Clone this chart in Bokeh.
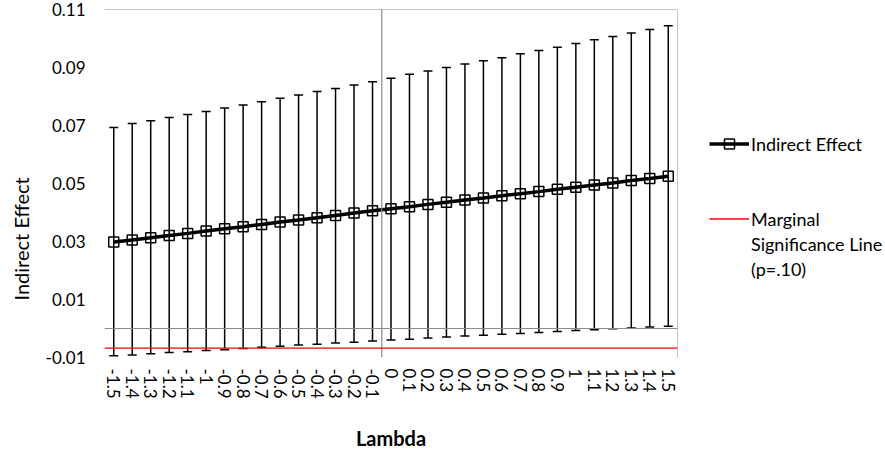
from bokeh.plotting import figure
from bokeh.layouts import row
from bokeh.models import (ColumnDataSource, Range1d, FixedTicker, PrintfTickFormatter,
                          Span, Whisker, TeeHead, Legend, LegendItem)
from bokeh.embed import file_html
from bokeh.resources import INLINE

# ---------------- data ----------------
lambda_labels = ["-1.5", "-1.4", "-1.3", "-1.2", "-1.1", "-1", "-0.9", "-0.8", "-0.7", "-0.6",
                 "-0.5", "-0.4", "-0.3", "-0.2", "-0.1", "0", "0.1", "0.2", "0.3", "0.4",
                 "0.5", "0.6", "0.7", "0.8", "0.9", "1", "1.1", "1.2", "1.3", "1.4", "1.5"]
indirect_effect = [0.0298, 0.0305, 0.0313, 0.0321, 0.0328, 0.0336, 0.0344, 0.0351, 0.0359, 0.0367,
                   0.0374, 0.0382, 0.0390, 0.0398, 0.0406, 0.0413, 0.0420, 0.0428, 0.0435, 0.0443,
                   0.0450, 0.0458, 0.0465, 0.0472, 0.0480, 0.0487, 0.0495, 0.0502, 0.0510, 0.0517,
                   0.0525]
upper_ci = [0.0693, 0.0707, 0.0716, 0.0728, 0.0738, 0.0748, 0.0760, 0.0771, 0.0782, 0.0794,
            0.0805, 0.0817, 0.0828, 0.0840, 0.0851, 0.0863, 0.0877, 0.0888, 0.0900, 0.0912,
            0.0923, 0.0934, 0.0947, 0.0959, 0.0970, 0.0983, 0.0996, 0.1007, 0.1019, 0.1031,
            0.1044]
lower_ci = [-0.0094, -0.0091, -0.0087, -0.0083, -0.0080, -0.0076, -0.0073, -0.0069, -0.0065, -0.0061,
            -0.0057, -0.0054, -0.0050, -0.0047, -0.0043, -0.0040, -0.0037, -0.0033, -0.0029, -0.0026,
            -0.0023, -0.0020, -0.0017, -0.0014, -0.0010, -0.0007, -0.0004, -0.0001, 0.0002, 0.0005,
            0.0008]
marginal_line = -0.0068
y_ticks = [-0.01, 0.01, 0.03, 0.05, 0.07, 0.09, 0.11]
y_min, y_max = -0.01, 0.11
axis_cross_between = ("-0.1", "0")   # value axis crosses between these categories

idx = list(range(len(lambda_labels)))
src = ColumnDataSource(dict(x=idx, y=indirect_effect, upper=upper_ci, lower=lower_ci,
                            marg=[marginal_line] * len(idx)))

FONT = "Lato"
GRAY = "#8a8a8a"

p = figure(width=678, height=455, output_backend="svg", toolbar_location=None,
           title="Indirect Effect", title_location="left",
           x_range=Range1d(-0.5, len(idx) - 0.5), y_range=Range1d(y_min, y_max),
           min_border_left=104, min_border_right=1, min_border_top=9, min_border_bottom=98)
p.outline_line_color = None
p.xgrid.visible = False
p.ygrid.visible = False
p.background_fill_color = "white"
p.border_fill_color = "white"

# y-axis title (Excel places it below the centre)
p.title.align = "left"
p.title.vertical_align = "top"
p.title.offset = 57
p.title.text_font = FONT
p.title.text_font_style = "normal"
p.title.text_font_size = "20px"
p.title.text_color = "#000000"
p.title.standoff = 15

# axes
xa = p.xaxis[0]
xa.ticker = FixedTicker(ticks=idx)
xa.major_label_overrides = {i: lab for i, lab in zip(idx, lambda_labels)}
xa.major_label_orientation = "vertical"
xa.axis_line_color = None
xa.major_tick_line_color = None
xa.minor_tick_line_color = None
xa.major_tick_in = 0
xa.major_tick_out = 0
xa.major_label_standoff = 11
xa.major_label_text_font = FONT
xa.major_label_text_font_size = "17px"
xa.major_label_text_color = "#000000"
xa.axis_label = "Lambda"
xa.axis_label_text_font = FONT
xa.axis_label_text_font_style = "bold"
xa.axis_label_text_font_size = "20px"
xa.axis_label_text_color = "#000000"
xa.axis_label_standoff = 24

ya = p.yaxis[0]
ya.ticker = FixedTicker(ticks=y_ticks)
ya.formatter = PrintfTickFormatter(format="%.2f")
ya.axis_line_color = None
ya.major_tick_line_color = None
ya.minor_tick_line_color = None
ya.major_tick_in = 0
ya.major_tick_out = 0
ya.minor_tick_in = 0
ya.minor_tick_out = 0
ya.major_label_standoff = 19
ya.major_label_text_font = FONT
ya.major_label_text_font_size = "17px"
ya.major_label_text_color = "#000000"

# plot-area border (top & right), axis lines crossing at 0 / between categories
cross_x = (lambda_labels.index(axis_cross_between[0]) + lambda_labels.index(axis_cross_between[1])) / 2
p.add_layout(Span(location=y_max, dimension="width", line_color=GRAY, line_width=1))
p.add_layout(Span(location=len(idx) - 0.5, dimension="height", line_color=GRAY, line_width=1))
p.add_layout(Span(location=0, dimension="width", line_color=GRAY, line_width=1.2))
p.add_layout(Span(location=cross_x, dimension="height", line_color=GRAY, line_width=1.2))

# marginal significance line
p.add_layout(Span(location=marginal_line, dimension="width", line_color="#ff0000", line_width=1.3))

# error bars
wh = Whisker(source=src, base="x", upper="upper", lower="lower", dimension="height",
             line_color="black", line_width=1.5,
             upper_head=TeeHead(size=9, line_color="black", line_width=1.5),
             lower_head=TeeHead(size=9, line_color="black", line_width=1.5))
p.add_layout(wh)

# main series
p.line("x", "y", source=src, line_color="black", line_width=3.5)
p.scatter("x", "y", source=src, marker="square", size=10, line_color="black",
          fill_color=None, line_width=1.5)

# ---------------- legend panel ----------------
p2 = figure(width=207, height=455, output_backend="svg", toolbar_location=None,
            x_range=Range1d(0, 1), y_range=Range1d(0, 1), min_border=0,
            x_axis_location=None, y_axis_location=None)
p2.outline_line_color = None
p2.xgrid.visible = False
p2.ygrid.visible = False
p2.background_fill_color = "white"
p2.border_fill_color = "white"

ln2 = p2.line("x", "y", source=src, line_color="black", line_width=3.5, visible=False)
mk2 = p2.scatter("x", "y", source=src, marker="square", size=10, line_color="black",
                 fill_color=None, line_width=1.5, visible=False)
red2 = p2.line("x", "marg", source=src, line_color="#ff0000", line_width=1.3, visible=False)
blanks = [p2.line("x", "marg", source=src, line_alpha=0, visible=False) for _ in range(4)]

leg = Legend(items=[LegendItem(label="Indirect Effect", renderers=[ln2, mk2]),
                    LegendItem(label=" ", renderers=[blanks[0]]),
                    LegendItem(label=" ", renderers=[blanks[1]]),
                    LegendItem(label="Marginal", renderers=[red2]),
                    LegendItem(label="Significance Line", renderers=[blanks[2]]),
                    LegendItem(label="(p=.10)", renderers=[blanks[3]])],
             location=(31, 76), glyph_width=40, glyph_height=25, label_height=25,
             label_standoff=2, padding=0, margin=0, spacing=0,
             background_fill_alpha=0, border_line_alpha=0, inactive_fill_alpha=0,
             label_text_font=FONT, label_text_font_size="18px", label_text_color="#000000")
p2.add_layout(leg, "center")

layout = row(p, p2, spacing=0)
open("out.html", "w").write(file_html(layout, INLINE))
